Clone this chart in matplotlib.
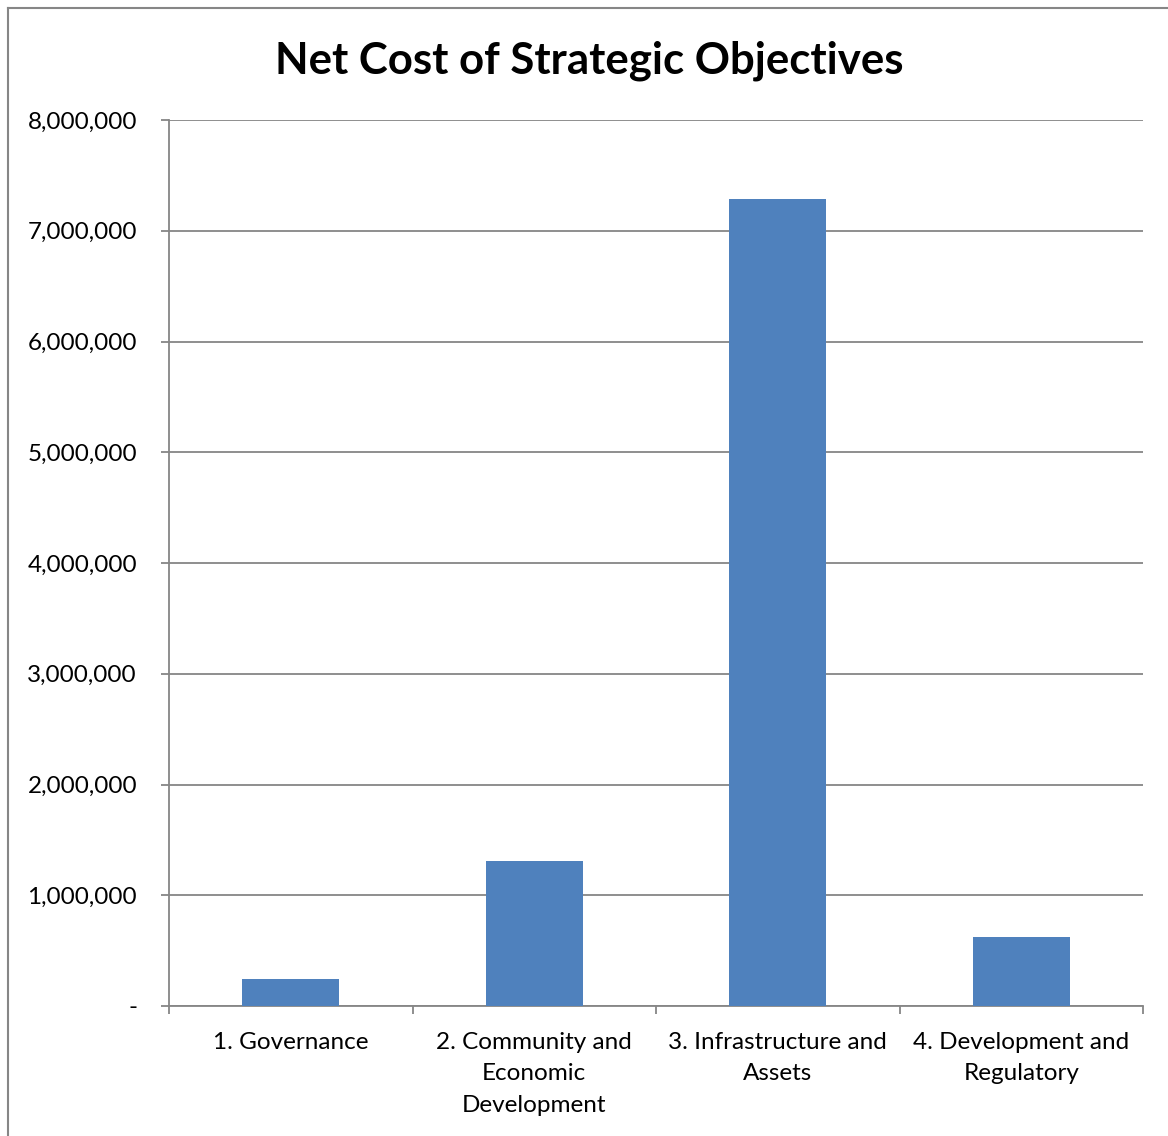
import matplotlib
matplotlib.use("Agg")
import matplotlib.pyplot as plt
from matplotlib.ticker import FuncFormatter, FixedLocator
from matplotlib.lines import Line2D

categories = ["1. Governance", "2. Community and\nEconomic\nDevelopment",
              "3. Infrastructure and\nAssets", "4. Development and\nRegulatory"]
values = [244000, 1309000, 7287000, 620000]
yticks = [0, 1000000, 2000000, 3000000, 4000000, 5000000, 6000000, 7000000, 8000000]
title = "Net Cost of Strategic Objectives"

plt.rcParams['font.family'] = ['Lato', 'DejaVu Sans']
W, H = 1168, 1136
fig = plt.figure(figsize=(W/100, H/100), dpi=100)
ax = fig.add_axes([169/W, 1-1006/H, (1143-169)/W, (1006-120)/H])

grey = "#868686"
x = list(range(len(categories)))
ax.bar(x, values, width=0.4, color="#4F81BD", zorder=3)
ax.set_xlim(-0.5, len(categories)-0.5)
ax.set_ylim(0, 8000000)
ax.set_yticks(yticks)
ax.yaxis.set_major_formatter(FuncFormatter(lambda v, p: "-" if v == 0 else f"{int(v):,}"))
ax.grid(axis='y', color=grey, linewidth=1.3, zorder=0)
for s in ['top', 'right']:
    ax.spines[s].set_visible(False)
for s in ['left', 'bottom']:
    ax.spines[s].set_color(grey)
    ax.spines[s].set_linewidth(1.3)
ax.tick_params(axis='y', length=6, color=grey, width=1.3, pad=17, labelsize=17.5)
ax.set_xticks(x)
ax.set_xticklabels(categories, fontsize=17.5, linespacing=1.63, va='top')
ax.tick_params(axis='x', which='major', length=0, pad=18.5)
ax.xaxis.set_minor_locator(FixedLocator([i - 0.5 for i in range(len(categories)+1)]))
ax.tick_params(axis='x', which='minor', length=6, color=grey, width=1.3)

fig.text(589/W, 1-61/H, title, ha='center', va='center', fontsize=31.5, fontweight='bold')

# outer chart border (left and top visible)
fig.add_artist(Line2D([7.5/W, 7.5/W], [0, 1-8/H], color=grey, linewidth=1.5, transform=fig.transFigure))
fig.add_artist(Line2D([7.5/W, 1], [1-8/H, 1-8/H], color=grey, linewidth=1.5, transform=fig.transFigure))

fig.savefig("out.png", dpi=100, facecolor="white")
